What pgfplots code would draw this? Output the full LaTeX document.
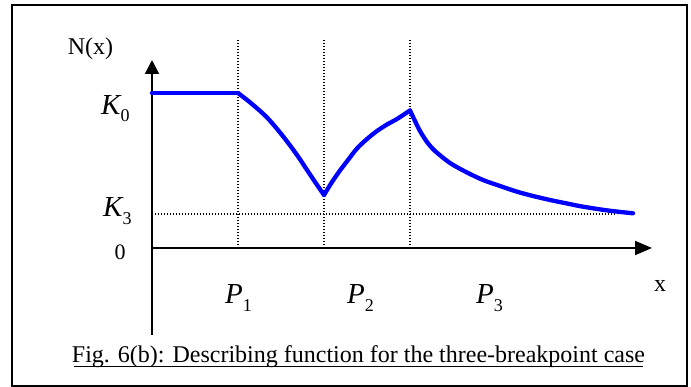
\documentclass[border=0pt]{standalone}
\usepackage{fontspec}
\setmainfont{Liberation Serif}
\usepackage{pgfplots}
\pgfplotsset{compat=1.18}
\usetikzlibrary{arrows.meta}

% Label helpers: roman text and italic symbol with lowered index
\newcommand{\rmlab}[2]{{\fontsize{#1}{#1}\selectfont #2}}
\newcommand{\symsub}[2]{{\fontsize{29}{29}\selectfont\itshape #1}\raisebox{-7.5pt}{\fontsize{18}{18}\selectfont #2}}

\begin{document}
\begin{tikzpicture}
\begin{axis}[
  x=1pt, y=1pt,
  xmin=-140, xmax=535, ymin=-138, ymax=243,
  axis lines=box,
  axis line style={line width=1.6pt, black},
  ticks=none,
  clip=false,
]
% page extent
\path (axis cs:-152,-139) rectangle (axis cs:539,248);

% dotted guide lines at the breakpoints and at K3
\addplot[black, line width=1.3pt, dash pattern=on 1.3pt off 1.7pt] coordinates {(86,0) (86,208)};
\addplot[black, line width=1.3pt, dash pattern=on 1.3pt off 1.7pt] coordinates {(172,0) (172,208)};
\addplot[black, line width=1.3pt, dash pattern=on 1.3pt off 1.7pt] coordinates {(258,0) (258,208)};
\addplot[black, line width=1.3pt, dash pattern=on 1.3pt off 1.7pt] coordinates {(0,34) (465,34)};

% coordinate axes with arrow heads
\addplot[black, line width=2pt, -{Triangle[length=14pt,width=14pt]}] coordinates {(0,-87) (0,188)};
\addplot[black, line width=2pt, -{Triangle[length=17pt,width=14pt]}] coordinates {(0,0) (500,0)};

% describing function N(x), one piece per interval
\pgfplotsset{nx/.style={blue, line width=4.3pt, line cap=round, line join=round}}
\addplot[nx] coordinates {(0,155) (86,155)};
\addplot[nx, smooth, tension=0.5] coordinates {
  (86,155) (100,144) (115,130.5) (130,113) (145,93) (160,70.5) (172,53)};
\addplot[nx, smooth, tension=0.5] coordinates {
  (172,53) (180,66) (188,77.5) (196,88) (205,99.5) (215,109) (225,117) (235,123.5) (245,129) (258,137.5)};
\addplot[nx, smooth, tension=0.5] coordinates {
  (258,137.5) (263,127) (268,117) (275,106) (283,97) (298,85) (315,75.5) (331,68) (348,62)
  (365,56.3) (381,52) (398,48) (415,44.5) (431,41.3) (456,37.5) (481,34.7)};

% labels
\node[anchor=base] at (axis cs:-61.5,193.7) {\rmlab{24}{N(x)}};
\node[anchor=base west, inner sep=0pt] at (axis cs:-51,133.7) {\symsub{K}{0}};
\node[anchor=base west, inner sep=0pt] at (axis cs:-49,31) {\symsub{K}{3}};
\node[anchor=base, inner sep=0pt] at (axis cs:-32,-12) {\rmlab{22}{0}};
\node[anchor=base west, inner sep=0pt] at (axis cs:73,-56) {\symsub{P}{1}};
\node[anchor=base west, inner sep=0pt] at (axis cs:195,-56) {\symsub{P}{2}};
\node[anchor=base west, inner sep=0pt] at (axis cs:324,-56) {\symsub{P}{3}};
\node[anchor=base, inner sep=0pt] at (axis cs:508,-43.7) {\rmlab{24}{x}};

% caption
\node[anchor=base, inner sep=0pt] at (axis cs:206.5,-114.7) {\rmlab{24}{Fig. 6(b): Describing function for the three-breakpoint case}};
\draw[line width=1.5pt] (axis cs:-78,-118.7) -- (axis cs:491,-118.7);
\end{axis}
\end{tikzpicture}
\end{document}
